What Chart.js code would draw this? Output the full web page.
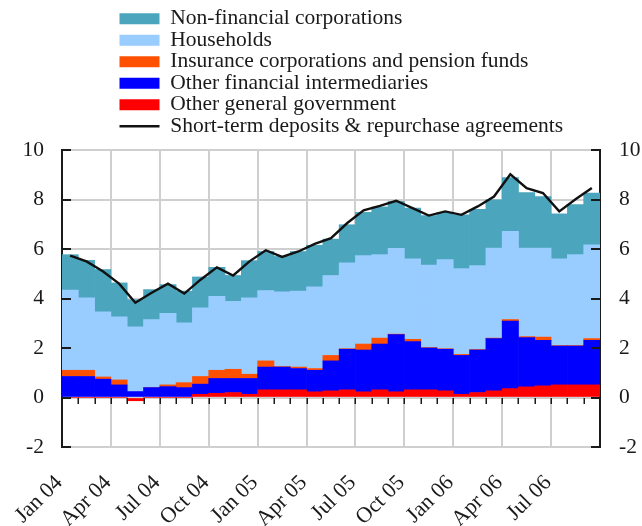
<!DOCTYPE html>
<html>
<head>
<meta charset="utf-8">
<script src="https://cdn.jsdelivr.net/npm/chart.js@4.4.0/dist/chart.umd.min.js"></script>
<style>
  html, body { margin: 0; padding: 0; background: #ffffff; }
  #wrap { width: 642px; height: 526px; position: relative; }
</style>
</head>
<body>
<div id="wrap"><canvas id="c"></canvas></div>
<script>
// ---- data (percentage points), monthly Jan 04 .. Sep 06 ----
const months = [
  'Jan 04','Feb 04','Mar 04','Apr 04','May 04','Jun 04','Jul 04','Aug 04','Sep 04','Oct 04','Nov 04','Dec 04',
  'Jan 05','Feb 05','Mar 05','Apr 05','May 05','Jun 05','Jul 05','Aug 05','Sep 05','Oct 05','Nov 05','Dec 05',
  'Jan 06','Feb 06','Mar 06','Apr 06','May 06','Jun 06','Jul 06','Aug 06','Sep 06'
];
const yTicks = [-2, 0, 2, 4, 6, 8, 10];

const nonFinancialCorporations = [1.43,1.51,1.71,1.37,1.09,1.21,1.16,1.28,1.25,1.17,1.04,1.50,1.58,1.43,1.60,1.68,1.47,1.54,1.75,1.93,1.89,2.05,2.00,1.91,2.17,2.27,1.95,2.18,2.24,2.08,1.82,2.02,2.09];
const households = [3.24,2.93,2.63,2.55,2.62,2.75,2.89,2.42,2.77,2.99,2.75,3.09,2.84,3.02,3.07,3.30,3.23,3.47,3.57,3.37,3.47,3.25,3.33,3.60,3.47,3.39,3.64,3.56,3.58,3.60,3.50,3.67,3.79];
const insurancePension = [0.25,0.25,0.09,0.20,0,0,0.07,0.20,0.31,0.33,0.37,0.17,0.25,0.02,0.06,0.07,0.22,0.02,0.24,0.24,0.02,0.09,0.02,0.02,0.04,0.02,0.02,0.06,0.04,0.13,0.02,0.02,0.07];
const otherFinancialIntermediaries = [0.85,0.85,0.74,0.51,0.24,0.40,0.44,0.40,0.41,0.60,0.57,0.64,0.92,0.92,0.86,0.87,1.21,1.64,1.69,1.85,2.31,1.95,1.69,1.68,1.57,1.72,2.11,2.73,1.99,1.84,1.57,1.57,1.80];
const otherGeneralGovernment = [0,0,0,0,-0.13,0,0,0,0.13,0.17,0.20,0.13,0.31,0.31,0.31,0.23,0.27,0.31,0.23,0.31,0.23,0.31,0.31,0.27,0.13,0.20,0.27,0.36,0.43,0.47,0.51,0.51,0.51];
const shortTermDeposits = [5.73,5.50,5.10,4.60,3.83,4.23,4.60,4.20,4.76,5.26,4.93,5.50,5.95,5.68,5.90,6.21,6.44,7.05,7.56,7.74,7.95,7.65,7.35,7.52,7.38,7.72,8.12,9.02,8.46,8.26,7.52,8.01,8.46];

const FONT = "'Liberation Serif', 'Times New Roman', serif";
Chart.defaults.font.family = FONT;
Chart.defaults.color = '#1a1a1a';

const GRID = '#cfcfcf';
const AXIS = '#1a1a1a';

// legend: one item per row, left aligned block above the plot
const legendPlacer = {
  id: 'legendPlacer',
  beforeLayout(chart) {
    const lg = chart.legend;
    if (lg && !lg._patched) {
      const proto = Object.getPrototypeOf(lg);
      lg.fit = function () { proto.fit.call(this); this.height = 142; };
      lg.draw = function () { if (this.options.display) { this._draw(); } };
      lg._patched = true;
    }
  },
  beforeDraw(chart) {
    const lg = chart.legend;
    if (!lg) return;
    const pad = lg.options.labels.padding;
    lg.left = 119.5 - pad;
    lg.right = lg.left + 60;
  }
};

// small black tick marks: inward on both value axes, monthly below the zero line
const axisMarks = {
  id: 'axisMarks',
  afterDatasetsDraw(chart) {
    const {ctx, chartArea: a, scales} = chart;
    const x = scales.x, y = scales.y;
    ctx.save();
    ctx.strokeStyle = AXIS;
    ctx.lineWidth = 2;
    ctx.beginPath();
    y.ticks.forEach(t => {
      const py = Math.round(y.getPixelForValue(t.value));
      ctx.moveTo(a.left, py); ctx.lineTo(a.left + 9, py);
      ctx.moveTo(a.right, py); ctx.lineTo(a.right - 9, py);
    });
    ctx.stroke();
    ctx.lineWidth = 1.5;
    ctx.beginPath();
    const y0 = Math.round(y.getPixelForValue(0));
    for (let i = 1; i < months.length; i++) {
      const px = Math.round(x.getPixelForValue(i - 0.5)) + 0.25;
      ctx.moveTo(px, y0); ctx.lineTo(px, y0 + 6);
    }
    ctx.stroke();
    ctx.restore();
  }
};

const barCommon = { type: 'bar', barPercentage: 1, categoryPercentage: 1, borderWidth: 0, yAxisID: 'y' };

new Chart(document.getElementById('c'), {
  type: 'bar',
  data: {
    labels: months,
    datasets: [
      Object.assign({ label: 'Non-financial corporations', data: nonFinancialCorporations, backgroundColor: '#4aa5bd', order: 5 }, barCommon),
      Object.assign({ label: 'Households', data: households, backgroundColor: '#99ccff', order: 4 }, barCommon),
      Object.assign({ label: 'Insurance corporations and pension funds', data: insurancePension, backgroundColor: '#ff5000', order: 3 }, barCommon),
      Object.assign({ label: 'Other financial intermediaries', data: otherFinancialIntermediaries, backgroundColor: '#0000ff', order: 2 }, barCommon),
      Object.assign({ label: 'Other general government', data: otherGeneralGovernment, backgroundColor: '#ff0000', order: 1 }, barCommon),
      { type: 'line', label: 'Short-term deposits & repurchase agreements', data: shortTermDeposits,
        borderColor: '#111111', borderWidth: 2.4, pointRadius: 0, pointHoverRadius: 0, fill: false,
        tension: 0, order: 0, stack: 'total', yAxisID: 'y' }
    ]
  },
  options: {
    responsive: true,
    maintainAspectRatio: false,
    animation: false,
    layout: { padding: { top: 8, left: 0, right: 0, bottom: 0 } },
    plugins: {
      tooltip: { enabled: false },
      legend: {
        position: 'top',
        align: 'start',
        labels: {
          font: { family: FONT, size: 21.5 },
          color: '#1a1a1a',
          usePointStyle: true,
          pointStyleWidth: 40,
          boxHeight: 11,
          padding: 0,
          sort: (a, b) => a.datasetIndex - b.datasetIndex,
          generateLabels(chart) {
            const items = Chart.defaults.plugins.legend.labels.generateLabels(chart);
            items.forEach(it => {
              const ds = chart.data.datasets[it.datasetIndex];
              if (ds.type === 'line') {
                it.pointStyle = 'line'; it.strokeStyle = '#111111'; it.lineWidth = 2.4;
              } else {
                it.pointStyle = 'rect'; it.lineWidth = 0; it.fillStyle = ds.backgroundColor;
              }
            });
            return items;
          }
        }
      }
    },
    scales: {
      x: {
        type: 'category',
        offset: true,
        stacked: true,
        grid: {
          offset: true,
          drawTicks: false,
          lineWidth: 2,
          color: (c) => (c.index !== undefined && c.index % 3 === 0) ? GRID : 'rgba(0,0,0,0)'
        },
        border: { display: false },
        ticks: {
          autoSkip: false,
          maxRotation: 45,
          minRotation: 45,
          padding: 23,
          labelOffset: -11,
          font: { family: FONT, size: 22 },
          color: '#1a1a1a',
          callback: (v, i) => (i % 3 === 0 ? months[i] : '')
        },
        afterFit: (s) => { s.height = 79; }
      },
      y: {
        position: 'left',
        stacked: true,
        min: -2, max: 10,
        afterBuildTicks: (s) => { s.ticks = yTicks.map(v => ({ value: v })); },
        grid: { color: GRID, lineWidth: 2, drawTicks: false },
        border: { display: true, color: AXIS, width: 2 },
        ticks: { padding: 18, font: { family: FONT, size: 21.5 }, color: '#1a1a1a' },
        afterFit: (s) => { s.width = 62; }
      },
      y2: {
        position: 'right',
        min: -2, max: 10,
        afterBuildTicks: (s) => { s.ticks = yTicks.map(v => ({ value: v })); },
        grid: { display: false, drawTicks: false },
        border: { display: true, color: AXIS, width: 2 },
        ticks: { padding: 19, font: { family: FONT, size: 21.5 }, color: '#1a1a1a' },
        afterFit: (s) => { s.width = 42; }
      }
    }
  },
  plugins: [legendPlacer, axisMarks]
});
</script>
</body>
</html>
